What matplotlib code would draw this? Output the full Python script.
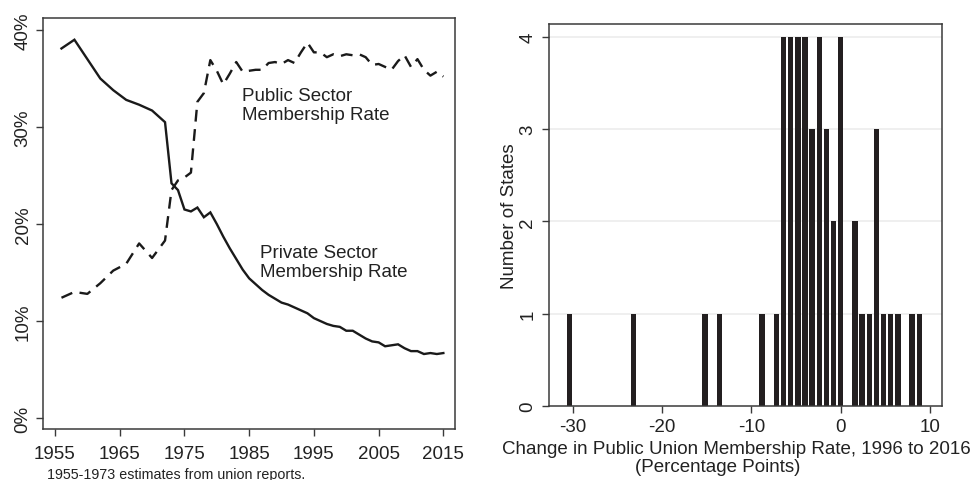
import matplotlib
matplotlib.use("Agg")
import matplotlib.pyplot as plt
from matplotlib.ticker import FuncFormatter

plt.rcParams['font.family'] = ['Liberation Sans', 'DejaVu Sans']
plt.rcParams['axes.unicode_minus'] = False

# ---- Left panel data: union membership rates (%) ----
years = [1956, 1958, 1960, 1962, 1964, 1966, 1968, 1970, 1972,
         1973, 1974, 1975, 1976, 1977, 1978, 1979, 1980, 1981, 1982, 1983, 1984,
         1985, 1986, 1987, 1988, 1989, 1990, 1991, 1992, 1993, 1994, 1995, 1996,
         1997, 1998, 1999, 2000, 2001, 2002, 2003, 2004, 2005, 2006, 2007, 2008,
         2009, 2010, 2011, 2012, 2013, 2014, 2015]
private_rate = [38.1, 39.0, 37.0, 35.0, 33.8, 32.8, 32.3, 31.7, 30.5,
                24.2, 23.5, 21.5, 21.3, 21.7, 20.7, 21.2, 20.0, 18.7, 17.5, 16.4, 15.3,
                14.4, 13.8, 13.2, 12.7, 12.3, 11.9, 11.7, 11.4, 11.1, 10.8, 10.3, 10.0,
                9.7, 9.5, 9.4, 9.0, 9.0, 8.6, 8.2, 7.9, 7.8, 7.4, 7.5, 7.6,
                7.2, 6.9, 6.9, 6.6, 6.7, 6.6, 6.7]
public_rate = [12.4, 13.0, 12.8, 13.9, 15.2, 15.9, 18.0, 16.5, 18.3,
               23.5, 24.5, 24.8, 25.3, 32.6, 33.5, 36.9, 35.8, 34.4, 35.5, 36.7, 35.7,
               35.8, 35.9, 35.9, 36.6, 36.7, 36.5, 36.9, 36.6, 37.7, 38.7, 37.7, 37.7,
               37.2, 37.5, 37.3, 37.5, 37.4, 37.5, 37.2, 36.4, 36.5, 36.2, 35.9, 36.8,
               37.4, 36.2, 37.0, 35.9, 35.3, 35.7, 35.2]
year_ticks = [1955, 1965, 1975, 1985, 1995, 2005, 2015]
pct_ticks = [0, 10, 20, 30, 40]

# ---- Right panel data: histogram of changes ----
bin_centers = [-30.4, -23.2, -15.2, -13.6, -8.8, -7.2, -6.4, -5.6, -4.8, -4.0,
               -3.2, -2.4, -1.6, -0.8, 0.0, 1.6, 2.4, 3.2, 4.0, 4.8, 5.6, 6.4, 8.0, 8.8]
state_counts = [1, 1, 1, 1, 1, 1, 4, 4, 4, 4,
                3, 4, 3, 2, 4, 2, 1, 1, 3, 1, 1, 1, 1, 1]
change_ticks = [-30, -20, -10, 0, 10]
count_ticks = [0, 1, 2, 3, 4]

W, H = 974, 481
fig = plt.figure(figsize=(W / 100, H / 100), dpi=100)
frame_c = '#3a3a3a'
txt_c = '#222222'
fs = 13.5

def px_axes(x0, y0, x1, y1):
    return fig.add_axes([x0 / W, 1 - y1 / H, (x1 - x0) / W, (y1 - y0) / H])

# Left panel
ax1 = px_axes(42.7, 19, 455, 430.3)
ax1.plot(years, private_rate, color='#1a1a1a', lw=1.7, solid_joinstyle='miter')
ax1.plot(years, public_rate, color='#1a1a1a', lw=1.7, dashes=(5, 3.2))
ax1.set_xlim(1953.1, 2016.8)
ax1.set_ylim(-1.16, 41.24)
ax1.set_xticks(year_ticks)
ax1.set_yticks(pct_ticks)
ax1.yaxis.set_major_formatter(FuncFormatter(lambda v, p: f"{int(v)}%"))
for lbl in ax1.get_yticklabels():
    lbl.set_rotation(90)
    lbl.set_va('center')
ax1.tick_params(axis='both', length=5, width=1, color=frame_c, labelsize=fs,
                labelcolor=txt_c)
ax1.tick_params(axis='x', pad=6)
ax1.tick_params(axis='y', pad=3)
for s in ax1.spines.values():
    s.set_color(frame_c)
    s.set_linewidth(1.1)
ax1.text(1983.9, 32.3, "Public Sector\nMembership Rate", fontsize=fs, va='center',
         ha='left', linespacing=1.12, color=txt_c)
ax1.text(1986.7, 16.1, "Private Sector\nMembership Rate", fontsize=fs, va='center',
         ha='left', linespacing=1.12, color=txt_c)
fig.text(47 / W, 1 - 475.5 / H, "1955-1973 estimates from union reports.",
         fontsize=10.3, ha='left', va='center', color=txt_c)

# Right panel
ax2 = px_axes(548.7, 25, 942, 406.7)
for yv in count_ticks[1:]:
    ax2.axhline(yv, color='#ececec', lw=1.2, zorder=0)
ax2.bar(bin_centers, state_counts, width=0.6, color='#231f20', zorder=2)
ax2.set_xlim(-32.7, 11.34)
ax2.set_ylim(0, 4.14)
ax2.set_xticks(change_ticks)
ax2.set_yticks(count_ticks)
for lbl in ax2.get_yticklabels():
    lbl.set_rotation(90)
    lbl.set_va('center')
ax2.tick_params(axis='both', length=5, width=1, color=frame_c, labelsize=fs, pad=4,
                labelcolor=txt_c)
for s in ax2.spines.values():
    s.set_color(frame_c)
    s.set_linewidth(1.1)
ax2.set_ylabel("Number of States", fontsize=fs, color=txt_c, labelpad=1)
fig.text(736 / W, 1 - 450 / H, "Change in Public Union Membership Rate, 1996 to 2016",
         fontsize=fs, ha='center', va='center', color=txt_c)
fig.text(718 / W, 1 - 468 / H, "(Percentage Points)",
         fontsize=fs, ha='center', va='center', color=txt_c)

fig.savefig("out.png", dpi=100)
